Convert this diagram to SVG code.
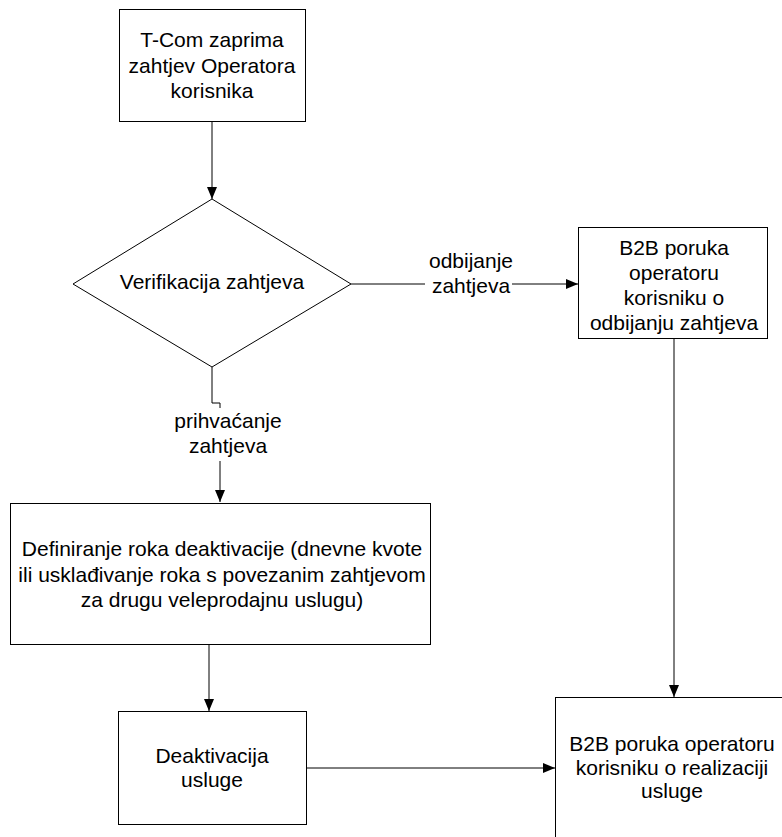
<svg xmlns="http://www.w3.org/2000/svg" width="782" height="837" viewBox="0 0 782 837">
<style>
.box{fill:#fff;stroke:#000;stroke-width:1}
.ln{fill:none;stroke:#000;stroke-width:1}
text{font-family:"Liberation Sans",Arial,sans-serif;font-size:21px;fill:#000;text-anchor:middle}
</style>
<defs>
<marker id="ah" viewBox="0 0 12 12" refX="12" refY="6" markerWidth="12" markerHeight="12" markerUnits="userSpaceOnUse" orient="auto">
<path d="M0,1 L12,6 L0,11 Z" fill="#000"/>
</marker>
</defs>
<rect width="782" height="837" fill="#fff"/>
<g id="connectors">
<path class="ln" d="M212,122 V199" marker-end="url(#ah)"/>
<path class="ln" d="M351,284 H578" marker-end="url(#ah)"/>
<path class="ln" d="M212,367 V403 H220 V502" marker-end="url(#ah)"/>
<path class="ln" d="M674,338 V697" marker-end="url(#ah)"/>
<path class="ln" d="M209,645 V711" marker-end="url(#ah)"/>
<path class="ln" d="M306,768 H555" marker-end="url(#ah)"/>
<g id="label-odbijanje">
<rect x="425" y="251" width="87" height="45" fill="#fff"/>
<text x="471" y="268">odbijanje</text>
<text x="471" y="293">zahtjeva</text>
</g>
<g id="label-prihvacanje">
<rect x="170" y="408" width="116" height="53" fill="#fff"/>
<text x="228" y="428">prihvaćanje</text>
<text x="228" y="453">zahtjeva</text>
</g>
</g>
<g id="n1">
<rect class="box" x="119.5" y="9.5" width="186" height="112"/>
<text x="212" y="47">T-Com zaprima</text>
<text x="212" y="73">zahtjev Operatora</text>
<text x="212" y="98">korisnika</text>
</g>
<g id="n2">
<polygon class="box" points="212,199 351,284 212,367 73,284"/>
<text x="212" y="289">Verifikacija zahtjeva</text>
</g>
<g id="n3">
<rect class="box" x="578.5" y="227.5" width="189" height="111"/>
<text x="674" y="255">B2B poruka</text>
<text x="674" y="280">operatoru</text>
<text x="674" y="305">korisniku o</text>
<text x="674" y="330">odbijanju zahtjeva</text>
</g>
<g id="n4">
<rect class="box" x="10.5" y="503.5" width="420" height="141"/>
<text x="222" y="556">Definiranje roka deaktivacije (dnevne kvote</text>
<text x="222" y="582">ili usklađivanje roka s povezanim zahtjevom</text>
<text x="222" y="607">za drugu veleprodajnu uslugu)</text>
</g>
<g id="n5">
<rect class="box" x="118.5" y="711.5" width="188" height="113"/>
<text x="212" y="763">Deaktivacija</text>
<text x="212" y="787">usluge</text>
</g>
<g id="n6">
<rect class="box" x="555.5" y="697.5" width="240" height="150"/>
<text x="672" y="751">B2B poruka operatoru</text>
<text x="672" y="775">korisniku o realizaciji</text>
<text x="672" y="798">usluge</text>
</g>
</svg>
